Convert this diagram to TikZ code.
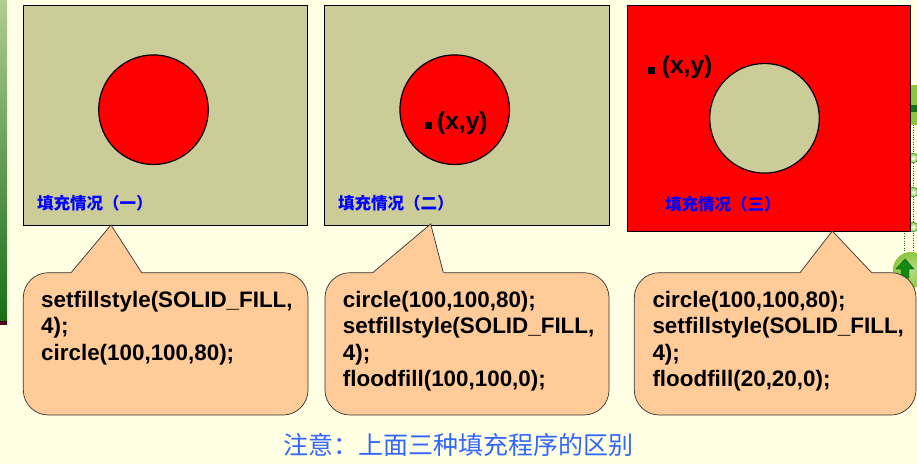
\documentclass[tikz,border=0pt]{standalone}
\usepackage{fontspec}
\setmainfont{Liberation Sans}
\newfontfamily\cjk{Noto Sans CJK SC}
\usetikzlibrary{calc}
\definecolor{cream}{RGB}{255,255,227}
\definecolor{khaki}{RGB}{204,204,153}
\definecolor{peach}{RGB}{255,204,153}
\definecolor{notice}{RGB}{51,102,255}
\definecolor{leafl}{RGB}{176,204,146}
\definecolor{leafd}{RGB}{24,110,24}
\definecolor{lime}{RGB}{140,198,63}

\begin{document}
\begin{tikzpicture}
  [x=1pt,y=1pt,
   panel/.style={draw=black,line width=0.9pt,inner sep=0pt},
   disc/.style={circle,draw=black,line width=1.2pt,minimum size=109.6,inner sep=0pt},
   bubble/.style={draw=black!80,line width=0.7pt,fill=peach,rounded corners=25},
   beak/.style={draw=black!80,line width=0.7pt},
   code/.style={anchor=base west,align=left,inner sep=0pt,
     font=\fontsize{22.4}{26.5}\selectfont\bfseries},
   caption/.style={anchor=west,inner sep=0pt,text=blue,
     font=\cjk\fontsize{16.5}{16.5}\selectfont\bfseries},
   dot/.style={fill=black,minimum size=7,inner sep=0pt},
   point/.style={anchor=west,inner sep=0pt,font=\fontsize{24.5}{24.5}\selectfont\bfseries}]
  \useasboundingbox (0,0) rectangle (917,464);
  \fill[cream] (0,0) rectangle (917,464);
  % slide decoration left
  \shade[top color=leafl,bottom color=leafd] (0,143) rectangle (7,464);
  \fill[black!60!purple] (0,139) rectangle (7,143);
  % slide decoration right
  \begin{scope}
    \clip (0,0) rectangle (917,464);
    \draw[leafd,dotted] (913,339) -- (913,164);
    \draw[leafd,dotted] (904,233) -- (904,194);
    \fill[lime] (910,339) rectangle (917,379);
    \fill[leafd] (910,352) rectangle (917,359);
    \foreach \y in {306,272,237} {
        \draw[leafd,inner color=white,outer color=lime] (913,\y) circle (5);
    }
    \shade[inner color=lime!60,outer color=lime] (911,194) circle (18);
    \draw[fill=leafd!80!green,draw=leafd!60!black]
      (905,205) -- (896,195) -- (901,195) -- (901,186) -- (909,186) -- (909,195) -- (914,195) -- cycle;
  \end{scope}
  % panel 1
  \node[panel,fill=khaki,minimum width=284,minimum height=220] (p1) at (165,349) {};
  \node[disc,fill=red] (c1) at (153.5,354.3) {};
  \node[caption] (l1) at (37,261) {填充情况（一）};
  % panel 2
  \node[panel,fill=khaki,minimum width=285,minimum height=220] (p2) at (466.5,349) {};
  \node[disc,fill=red] (c2) at (454.7,354.3) {};
  \node[dot] (m2) at (428.5,338.5) {};
  \node[point] (xy2) at (437,340.7) {(x,y)};
  \node[caption] (l2) at (338,261) {填充情况（二）};
  % panel 3
  \node[panel,fill=red,minimum width=283,minimum height=226] (p3) at (768.5,346) {};
  \node[disc,fill=khaki] (c3) at (764.5,345.7) {};
  \node[dot] (m3) at (651,393.5) {};
  \node[point] (xy3) at (661.7,396.5) {(x,y)};
  \node[caption] (l3) at (665,260) {填充情况（三）};
  % callouts
  \draw[bubble] (23.3,49) rectangle (308,191.3);
  \fill[peach] (70,190) -- (111,239) -- (142.7,190) -- cycle;
  \draw[beak] (71,191.3) -- (111,239) -- (141.7,191.3);
  \draw[bubble] (325,49) rectangle (609,191.3);
  \fill[peach] (371.7,190) -- (430.7,240) -- (444.3,190) -- cycle;
  \draw[beak] (372.7,191.3) -- (430.7,240) -- (443.3,191.3);
  \draw[bubble] (634.3,49) rectangle (916,191.3);
  \fill[peach] (799,190) -- (832.3,233) -- (872.7,190) -- cycle;
  \draw[beak] (800,191.3) -- (832.3,233) -- (871.7,191.3);
  \node[code] (t1) at (41,104) {setfillstyle(SOLID\_FILL,\\4);\\circle(100,100,80);};
  \node[code] (t2) at (342.7,77.5) {circle(100,100,80);\\setfillstyle(SOLID\_FILL,\\4);\\floodfill(100,100,0);};
  \node[code] (t3) at (652.3,77.5) {circle(100,100,80);\\setfillstyle(SOLID\_FILL,\\4);\\floodfill(20,20,0);};
  % note
  \node[anchor=west,inner sep=0pt,text=notice,font=\cjk\fontsize{25}{25}\selectfont]
    (note) at (283,19) {注意：上面三种填充程序的区别};
\end{tikzpicture}
\end{document}
